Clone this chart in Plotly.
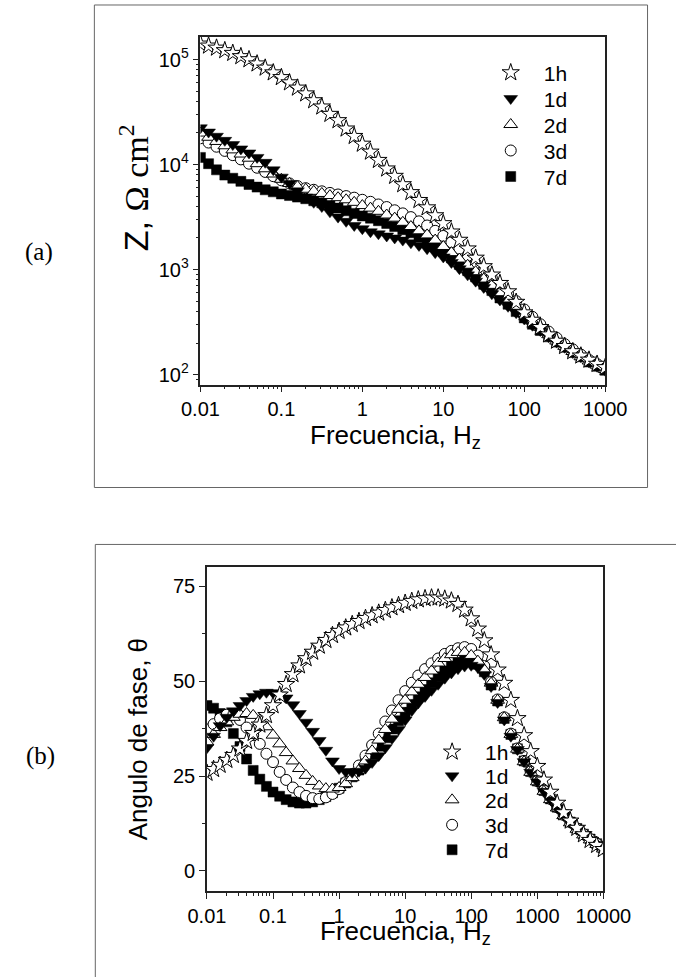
import plotly.graph_objects as go

# ---------------- data ----------------
freq_top = [0.01, 0.0126, 0.0158, 0.02, 0.0251, 0.0316, 0.0398, 0.0501, 0.0631, 0.0794,
            0.1, 0.126, 0.158, 0.2, 0.251, 0.316, 0.398, 0.501, 0.631, 0.794,
            1, 1.26, 1.58, 2, 2.51, 3.16, 3.98, 5.01, 6.31, 7.94,
            10, 12.6, 15.8, 20, 25.1, 31.6, 39.8, 50.1, 63.1, 79.4,
            100, 126, 158, 200, 251, 316, 398, 501, 631, 794, 1000]
freq_bot = [0.01, 0.0126, 0.0158, 0.02, 0.0251, 0.0316, 0.0398, 0.0501, 0.0631, 0.0794,
            0.1, 0.126, 0.158, 0.2, 0.251, 0.316, 0.398, 0.501, 0.631, 0.794,
            1, 1.26, 1.58, 2, 2.51, 3.16, 3.98, 5.01, 6.31, 7.94,
            10, 12.6, 15.8, 20, 25.1, 31.6, 39.8, 50.1, 63.1, 79.4,
            100, 126, 158, 200, 251, 316, 398, 501, 631, 794,
            1000, 1260, 1580, 2000, 2510, 3160, 3980, 5010, 6310, 7940, 10000]

series = ["1h", "1d", "2d", "3d", "7d"]

# impedance modulus, ohm cm2
z_1h = [141000, 135000, 129000, 122000, 115000, 107000, 100000, 91200, 83200, 75000,
        67600, 60300, 53700, 47300, 40700, 35500, 30200, 26300, 21900, 18600,
        15700, 13200, 11000, 9120, 7760, 6460, 5430, 4570, 3890, 3270,
        2750, 2290, 1910, 1580, 1290, 1070, 891, 741, 617, 490,
        389, 331, 282, 240, 209, 186, 166, 151, 138, 126, 117]
z_1d = [22400, 20400, 18600, 17000, 15500, 14100, 12900, 11700, 10500, 8910,
        7590, 6610, 5620, 4900, 4370, 3980, 3550, 3160, 2880, 2630,
        2450, 2290, 2190, 2090, 2000, 1910, 1800, 1700, 1580, 1450,
        1320, 1170, 1020, 891, 776, 676, 589, 513, 447, 389,
        339, 295, 263, 229, 204, 182, 162, 148, 132, 120, 110]
z_2d = [19950, 18200, 16600, 15100, 13800, 12600, 11500, 10200, 9120, 8130,
        7240, 6610, 6170, 5820, 5560, 5310, 5070, 4840, 4620, 4370,
        4070, 3850, 3590, 3310, 3090, 2820, 2570, 2340, 2140, 1910,
        1660, 1450, 1260, 1100, 955, 813, 708, 603, 525, 447,
        380, 324, 282, 240, 209, 186, 166, 148, 135, 123, 112]
z_3d = [17800, 16200, 14800, 13500, 12300, 11200, 10200, 9330, 8510, 7760,
        7080, 6610, 6240, 5960, 5750, 5560, 5370, 5190, 5010, 4840,
        4620, 4420, 4170, 3940, 3670, 3430, 3160, 2880, 2630, 2340,
        2090, 1820, 1580, 1350, 1150, 977, 832, 708, 589, 501,
        417, 355, 302, 257, 224, 195, 174, 155, 138, 126, 115]
z_7d = [11700, 10200, 8910, 7940, 7410, 6920, 6460, 6100, 5750, 5500,
        5250, 5070, 4900, 4730, 4520, 4320, 4070, 3850, 3630, 3430,
        3240, 3090, 2920, 2750, 2570, 2400, 2240, 2040, 1860, 1660,
        1480, 1290, 1120, 977, 851, 724, 631, 537, 468, 398,
        347, 302, 263, 229, 204, 182, 162, 148, 132, 120, 110]

# phase angle, degrees
p_1h = [25.8, 26.8, 27.9, 29.2, 30.5, 32.2, 34.2, 36.3, 38.5, 41.0,
        43.6, 46.4, 49.2, 51.8, 54.1, 56.0, 57.7, 59.3, 60.8, 62.1,
        63.2, 64.1, 65.0, 65.8, 66.6, 67.3, 68.0, 68.7, 69.4, 70.0,
        70.6, 71.1, 71.5, 71.8, 72.0, 72.0, 71.7, 71.2, 70.3, 68.8,
        66.5, 63.8, 60.7, 57.0, 53.0, 49.5, 45.0, 40.2, 35.7, 31.5,
        27.6, 24.0, 20.8, 17.9, 15.4, 13.2, 11.3, 9.6, 8.1, 6.8, 5.7]
p_1d = [32.5, 35.5, 38.3, 40.5, 42.2, 43.6, 44.9, 46.0, 46.7, 47.1,
        47.0, 46.4, 45.6, 43.8, 41.5, 39.2, 36.8, 34.4, 31.8, 29.0,
        27.0, 26.2, 26.0, 26.3, 27.1, 28.6, 30.4, 32.5, 34.9, 37.3,
        39.8, 42.3, 44.3, 46.0, 47.6, 49.2, 50.8, 52.2, 53.3, 54.0,
        54.2, 53.6, 51.8, 48.6, 44.4, 39.8, 35.5, 32.0, 28.8, 26.0,
        23.5, 21.0, 18.8, 16.6, 14.6, 12.7, 11.0, 9.5, 8.2, 7.0, 5.8]
p_2d = [34.0, 36.0, 37.8, 39.3, 40.5, 41.3, 41.5, 41.0, 39.8, 38.0,
        35.8, 33.5, 31.2, 29.0, 27.0, 25.2, 23.6, 22.4, 21.7, 21.6,
        22.0, 23.0, 24.6, 26.6, 29.0, 31.7, 34.5, 37.3, 40.0, 42.6,
        45.0, 47.2, 49.2, 51.0, 52.7, 54.8, 56.0, 57.0, 57.6, 57.6,
        56.8, 55.3, 53.0, 49.5, 45.0, 40.4, 36.0, 32.1, 28.8, 26.0,
        23.5, 21.0, 18.8, 16.6, 14.6, 12.7, 11.0, 9.5, 8.2, 7.0, 5.8]
p_3d = [37.3, 38.7, 40.2, 41.2, 41.2, 39.8, 37.8, 35.8, 33.5, 30.9,
        28.7, 26.1, 24.0, 22.0, 20.8, 19.8, 19.2, 19.0, 19.4, 20.3,
        21.6, 23.4, 25.5, 27.8, 30.4, 33.2, 36.2, 39.4, 42.3, 45.0,
        47.4, 49.6, 51.5, 53.2, 54.7, 56.0, 57.2, 58.0, 58.7, 59.0,
        58.5, 56.8, 54.0, 49.8, 45.2, 40.5, 36.2, 32.3, 29.0, 26.2,
        23.7, 21.2, 19.0, 16.8, 14.8, 12.9, 11.2, 9.7, 8.4, 7.2, 6.0]
p_7d = [43.6, 42.9, 41.5, 39.3, 36.2, 32.8, 29.5, 26.5, 24.2, 22.3,
        20.8, 19.7, 18.8, 18.2, 17.9, 17.9, 18.2, 18.8, 19.6, 20.6,
        21.8, 23.2, 24.8, 26.6, 28.6, 30.7, 32.9, 35.1, 37.4, 39.6,
        41.8, 43.9, 45.9, 47.8, 49.6, 51.2, 52.7, 54.0, 55.0, 55.6,
        55.5, 54.5, 52.5, 49.0, 44.8, 40.2, 36.0, 32.2, 29.0, 26.2,
        23.7, 21.2, 19.0, 16.8, 14.8, 12.9, 11.2, 9.7, 8.4, 7.2, 6.0]

z_ticks = [100, 1000, 10000, 100000]
z_ticktext = ["10<sup>2</sup>", "10<sup>3</sup>", "10<sup>4</sup>", "10<sup>5</sup>"]
x_ticks_top = [0.01, 0.1, 1, 10, 100, 1000]
x_ticks_bot = [0.01, 0.1, 1, 10, 100, 1000, 10000]
x_ticktext_top = ["0.01", "0.1", "1", "10", "100", "1000"]
x_ticktext_bot = ["0.01", "0.1", "1", "10", "100", "1000", "10000"]
p_ticks = [0, 25, 50, 75]

z_data = {"1h": z_1h, "1d": z_1d, "2d": z_2d, "3d": z_3d, "7d": z_7d}
p_data = {"1h": p_1h, "1d": p_1d, "2d": p_2d, "3d": p_3d, "7d": p_7d}

# ---------------- styling ----------------
W, H = 676, 977
SANS = "Liberation Sans, Arial, sans-serif"
SERIF = "Liberation Serif, Times New Roman, serif"

styles = {
    "1h": dict(symbol="star", size=13, color="white", line=dict(color="black", width=1)),
    "1d": dict(symbol="triangle-down", size=12, color="black", line=dict(color="black", width=0.5)),
    "2d": dict(symbol="triangle-up", size=12, color="white", line=dict(color="black", width=1)),
    "3d": dict(symbol="circle", size=11, color="white", line=dict(color="black", width=1)),
    "7d": dict(symbol="square", size=10, color="black", line=dict(color="black", width=0.5)),
}
draw_order = ["7d", "3d", "2d", "1d", "1h"]

# legend row positions (pixels): one small legend per entry
top_leg_x, top_leg_rows = 493, [73, 99, 125, 151, 177]
bot_leg_x, bot_leg_rows = 430, [753, 777, 801, 826, 851]


def px(x):
    return x / W


def py(y):
    return 1 - y / H


def legend_name(panel, s):
    idx = panel * 5 + series.index(s) + 1
    return "legend" if idx == 1 else f"legend{idx}"


fig = go.Figure()
for s in draw_order:
    fig.add_trace(go.Scatter(x=freq_top, y=z_data[s], mode="markers", name=s,
                             marker=styles[s], xaxis="x", yaxis="y",
                             legend=legend_name(0, s)))
for s in draw_order:
    fig.add_trace(go.Scatter(x=freq_bot, y=p_data[s], mode="markers", name=s,
                             marker=styles[s], xaxis="x2", yaxis="y2",
                             legend=legend_name(1, s)))

legend_layout = {}
for panel, (lx, rows) in enumerate([(top_leg_x, top_leg_rows), (bot_leg_x, bot_leg_rows)]):
    for s, ry in zip(series, rows):
        legend_layout[legend_name(panel, s)] = dict(
            x=px(lx), y=py(ry), xanchor="left", yanchor="middle",
            bgcolor="rgba(0,0,0,0)", font=dict(family=SANS, size=21),
            itemwidth=56, itemsizing="trace")

axis_common = dict(showline=True, linecolor="#222", linewidth=1.5, mirror=True,
                   showgrid=False, zeroline=False, ticks="outside", ticklen=6,
                   tickwidth=1.2, tickcolor="#222",
                   tickfont=dict(family=SANS, size=20, color="black"))
minor_log = dict(ticks="outside", ticklen=3, tickwidth=1, tickcolor="#222",
                 dtick="D1", showgrid=False)

fig.update_layout(
    width=W, height=H, margin=dict(l=0, r=0, t=0, b=0),
    paper_bgcolor="white", plot_bgcolor="white",
    font=dict(family=SANS, color="black"),
    xaxis=dict(type="log", range=[-2, 3], domain=[px(195), px(630)], anchor="y",
               tickvals=x_ticks_top, ticktext=x_ticktext_top, minor=minor_log,
               **axis_common),
    yaxis=dict(type="log", range=[1.905, 5.215], domain=[py(385), py(37)], anchor="x",
               tickvals=z_ticks, ticktext=z_ticktext, minor=minor_log,
               **axis_common),
    xaxis2=dict(type="log", range=[-2, 4], domain=[px(202), px(628)], anchor="y2",
                tickvals=x_ticks_bot, ticktext=x_ticktext_bot, minor=minor_log,
                **axis_common),
    yaxis2=dict(range=[-5.3, 80], domain=[py(892), py(568)], anchor="x2",
                tickvals=p_ticks,
                minor=dict(ticks="outside", ticklen=3, tickwidth=1, tickcolor="#222",
                           dtick=12.5, showgrid=False),
                **axis_common),
    showlegend=True,
    **legend_layout,
)

# panel frames
fig.add_shape(type="rect", xref="paper", yref="paper",
              x0=px(81), x1=px(675.5), y0=py(488), y1=py(5),
              line=dict(color="#666", width=1), layer="below")
fig.add_shape(type="rect", xref="paper", yref="paper",
              x0=px(82), x1=px(720), y0=py(1020), y1=py(545),
              line=dict(color="#666", width=1), layer="below")

annots = [
    dict(text="(a)", x=px(22), y=py(252), font=dict(family=SERIF, size=25)),
    dict(text="(b)", x=px(23), y=py(757), font=dict(family=SERIF, size=25)),
    dict(text="Frecuencia, H<sub>z</sub>", x=px(405), y=py(437),
         font=dict(family=SANS, size=26)),
    dict(text="Frecuencia, H<sub>z</sub>", x=px(415), y=py(933),
         font=dict(family=SANS, size=26)),
    dict(text="Z, <span style='font-family:Liberation Serif'>Ω cm<sup>2</sup></span>",
         x=px(123), y=py(188), textangle=-90, font=dict(family=SANS, size=34)),
    dict(text="Angulo de fase, θ", x=px(128), y=py(740), textangle=-90,
         font=dict(family=SANS, size=26)),
]
for a in annots:
    fig.add_annotation(xref="paper", yref="paper", showarrow=False,
                       xanchor="center", yanchor="middle", **a)

fig.write_html("out.html")
